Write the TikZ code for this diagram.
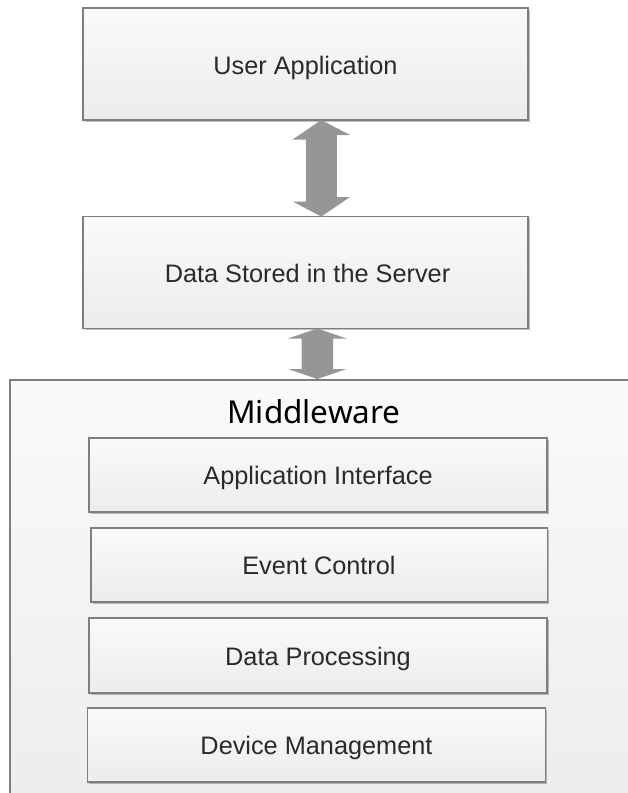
\documentclass[tikz,border=0pt]{standalone}
\usepackage{fontspec}
\setmainfont{Liberation Sans}
\newfontfamily\titlefont{Noto Sans}
\usetikzlibrary{shadows}
\definecolor{boxline}{HTML}{7F7F7F}
\definecolor{boxtop}{HTML}{FAFAFA}
\definecolor{boxbot}{HTML}{ECECEC}
\definecolor{arrowgray}{HTML}{969696}
\definecolor{txt}{HTML}{2A2A2A}
\tikzset{
  x=1pt, y=-1pt,
  layer/.style={draw=boxline, line width=1.3pt, top color=boxtop, bottom color=boxbot,
    drop shadow={shadow xshift=1.5pt, shadow yshift=-1.5pt, opacity=0.25, fill=black}},
  label/.style={text=txt, font=\fontsize{25.3}{30}\selectfont, inner sep=0pt, anchor=base},
  fatarrow/.style={fill=arrowgray, draw=none}
}
\begin{document}
\begin{tikzpicture}
\useasboundingbox (0,0) rectangle (628,793);
\begin{scope}
\clip (0,0) rectangle (628,793);
% outer middleware frame, running past the page edges
\path[layer] (10,380) rectangle (660,830);
\node[text=black, font=\titlefont\fontsize{31.5}{36}\selectfont, inner sep=0pt, anchor=base]
  (mwtitle) at (314,423.5) {Middleware};
\end{scope}

% top two layers
\path[layer] (83,8) rectangle (528,120);
\node[label] (ua) at (305.5,74) {User Application};
\coordinate (uab) at (321.3,120);
\path[layer] (83,216.5) rectangle (528,328.5);
\node[label] (ds) at (307.5,282) {Data Stored in the Server};
\coordinate (dst) at (321.3,216.5);
\coordinate (dsb) at (317.3,328.5);
\coordinate (mwt) at (317.3,379);

% middleware components
\path[layer] (89,438) rectangle (547,512);
\node[label] (ai) at (318,484.5) {Application Interface};
\path[layer] (91,528) rectangle (547.5,602);
\node[label] (ec) at (319,574.5) {Event Control};
\path[layer] (89,618) rectangle (547,693);
\node[label] (dp) at (318,665) {Data Processing};
\path[layer] (87.5,708) rectangle (545.5,782);
\node[label] (dm) at (316.5,754.5) {Device Management};

% double-headed block arrows between the layers
\fill[fatarrow] (uab) -- ++(28.7,15) -- ++(-13.2,0) -- ++(0,62) -- ++(13.2,0) -- (dst)
  -- ++(-28.7,-15) -- ++(13.2,0) -- ++(0,-62) -- ++(-13.2,0) -- cycle;
\fill[fatarrow] (dsb) -- ++(29.3,10) -- ++(-13.5,0) -- ++(0,30.5) -- ++(13.5,0) -- (mwt)
  -- ++(-29.3,-10) -- ++(13.5,0) -- ++(0,-30.5) -- ++(-13.5,0) -- cycle;
\end{tikzpicture}
\end{document}
